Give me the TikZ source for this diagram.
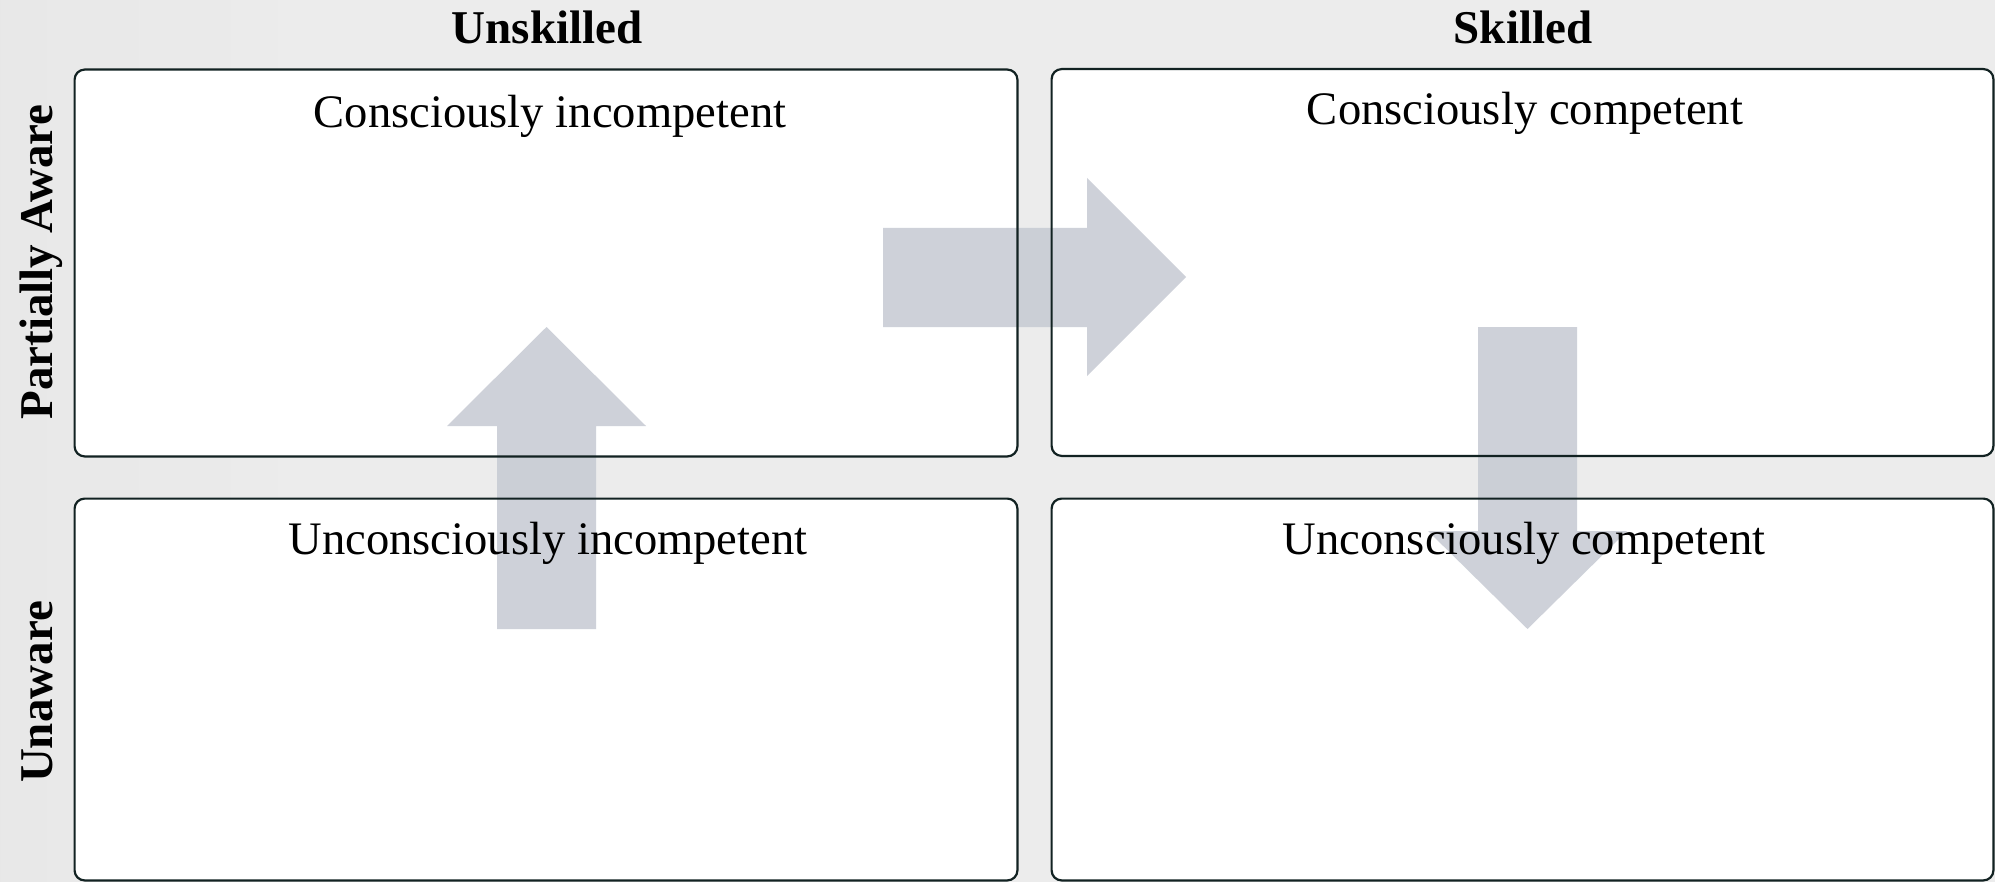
\documentclass[tikz,border=0pt]{standalone}
\usepackage{fontspec}
\setmainfont{Liberation Serif}
\definecolor{pagebg}{RGB}{236,236,236}
\definecolor{edge}{RGB}{18,34,34}
\definecolor{arrowgray}{RGB}{198,202,211}
\tikzset{
  quad/.style={rectangle, rounded corners=5pt, fill=white, inner sep=0pt},
  quadline/.style={draw=edge, line width=1.1pt, rounded corners=5pt},
  flow/.style={fill=arrowgray, fill opacity=0.85},
  heading/.style={font=\bfseries\fontsize{23.5pt}{28pt}\selectfont, anchor=base, inner sep=0pt},
  quadtext/.style={font=\fontsize{23.3pt}{28pt}\selectfont, anchor=base, inner sep=0pt}
}
\begin{document}
\begin{tikzpicture}[x=0.5pt, y=-0.5pt]
  % page and background
  \useasboundingbox (0,0) rectangle (1995,882);
  \fill[pagebg] (0,0) rectangle (1995,882);
  \shade[left color=black!10, right color=pagebg, opacity=0.6] (0,0) rectangle (300,882);

  % quadrant fills
  \node[quad, minimum width=471pt, minimum height=193pt] (ci) at (546,263) {};
  \node[quad, minimum width=470.5pt, minimum height=193pt] (cc) at (1522.5,262.5) {};
  \node[quad, minimum width=471pt, minimum height=190.5pt] (ui) at (546,689.5) {};
  \node[quad, minimum width=470.5pt, minimum height=190.5pt] (uc) at (1522.5,689.5) {};

  % transition arrows
  \fill[flow] (883,228) -- (1087,228) -- (1087,178) -- (1186,277) -- (1087,376)
              -- (1087,327) -- (883,327) -- cycle;
  \fill[flow] (1478,327) -- (1577,327) -- (1577,531) -- (1627,531) -- (1527.5,629)
              -- (1428,531) -- (1478,531) -- cycle;
  \fill[flow] (497,629) -- (596,629) -- (596,426) -- (646,426) -- (546.5,327)
              -- (447,426) -- (497,426) -- cycle;

  % quadrant outlines
  \foreach \q in {ci,cc,ui,uc}
    \draw[quadline] (\q.south west) rectangle (\q.north east);

  % column and row headings
  \node[heading] (hunsk) at (547,44) {Unskilled};
  \node[heading] (hsk) at (1523,44) {Skilled};
  \node[heading, rotate=90] (hpa) at (52,262) {Partially Aware};
  \node[heading, rotate=90] (hun) at (52,692) {Unaware};

  % quadrant titles
  \node[quadtext] (tci) at (550,128) {Consciously incompetent};
  \node[quadtext] (tcc) at (1525,125) {Consciously competent};
  \node[quadtext] (tui) at (548,554) {Unconsciously incompetent};
  \node[quadtext] (tuc) at (1524,554) {Unconsciously competent};
\end{tikzpicture}
\end{document}
